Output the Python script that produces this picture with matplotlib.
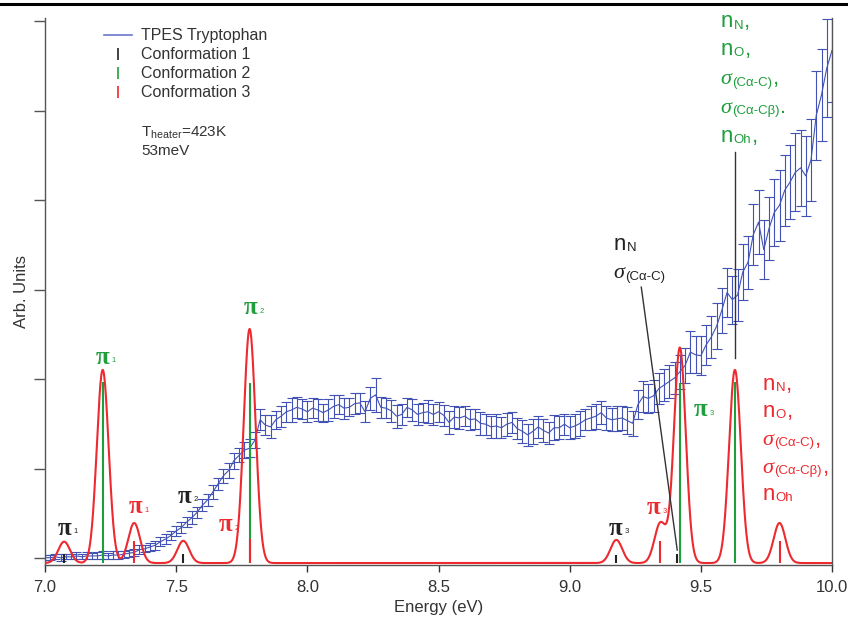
import numpy as np
import matplotlib
matplotlib.use('Agg')
import matplotlib.pyplot as plt
from matplotlib.lines import Line2D
from matplotlib.font_manager import FontProperties
from matplotlib.textpath import text_to_path

plt.rcParams['font.family'] = ['Liberation Sans', 'DejaVu Sans']
plt.rcParams['mathtext.fontset'] = 'custom'
plt.rcParams['mathtext.rm'] = 'Liberation Sans'
plt.rcParams['mathtext.it'] = 'Liberation Sans:italic'

# данные TPES (энергия, сигнал, погрешность)
energy = np.round(np.arange(7.0, 10.001, 0.02), 2)
tpes = [0.06, 0.06, 0.07, 0.06, 0.07, 0.07, 0.08, 0.07, 0.08, 0.08, 0.08, 0.09, 0.08, 0.09, 0.09, 0.10,
        0.11, 0.12, 0.15, 0.16, 0.18, 0.20, 0.24, 0.27, 0.31, 0.36,
        0.40, 0.46, 0.51, 0.57, 0.65, 0.71, 0.80, 0.89, 0.98, 1.04, 1.15, 1.21, 1.27, 1.29, 1.38,
        1.61, 1.55, 1.53, 1.61, 1.65, 1.70, 1.72, 1.75, 1.73, 1.70,
        1.74, 1.72, 1.69, 1.72, 1.76, 1.78, 1.74, 1.75, 1.79, 1.80,
        1.70, 1.85, 1.89, 1.75, 1.74, 1.71, 1.65, 1.67, 1.75, 1.72,
        1.67, 1.69, 1.70, 1.67, 1.70, 1.66, 1.58, 1.64, 1.63, 1.65,
        1.61, 1.62, 1.57, 1.56, 1.53, 1.54, 1.52, 1.56, 1.58, 1.51,
        1.48, 1.44, 1.48, 1.53, 1.49, 1.46, 1.52, 1.52, 1.56, 1.52,
        1.54, 1.57, 1.61, 1.63, 1.65, 1.69, 1.63, 1.61, 1.62, 1.63,
        1.60, 1.57, 1.78, 1.87, 1.85, 1.88, 1.96, 2.00, 2.04, 2.08,
        2.15, 2.22, 2.37, 2.34, 2.33, 2.45, 2.54, 2.66, 2.84, 3.04,
        2.96, 3.01, 3.27, 3.38, 3.69, 3.83, 3.52, 3.76, 3.94, 4.02,
        4.19, 4.28, 4.39, 4.44, 4.35, 4.53, 5.03, 5.26, 5.56, 5.76]
tpes_err = [0.03, 0.03, 0.03, 0.04, 0.03, 0.03, 0.04, 0.03, 0.04, 0.03, 0.04, 0.04, 0.03, 0.04, 0.04, 0.04,
            0.04, 0.04, 0.05, 0.04, 0.05, 0.05, 0.05, 0.06, 0.05, 0.06,
            0.06, 0.06, 0.07, 0.06, 0.07, 0.07, 0.08, 0.07, 0.08, 0.08, 0.09, 0.08, 0.09, 0.10, 0.09,
            0.12, 0.11, 0.13, 0.10, 0.12, 0.11, 0.13, 0.12, 0.11, 0.12,
            0.11, 0.12, 0.10, 0.12, 0.13, 0.11, 0.12, 0.10, 0.12, 0.11,
            0.12, 0.13, 0.19, 0.12, 0.11, 0.12, 0.13, 0.12, 0.11, 0.12,
            0.12, 0.11, 0.13, 0.12, 0.11, 0.12, 0.13, 0.12, 0.12, 0.11,
            0.12, 0.11, 0.13, 0.12, 0.12, 0.14, 0.12, 0.13, 0.12, 0.12,
            0.13, 0.12, 0.14, 0.12, 0.13, 0.12, 0.14, 0.13, 0.12, 0.13,
            0.13, 0.14, 0.12, 0.13, 0.14, 0.13, 0.14, 0.13, 0.14, 0.14,
            0.15, 0.14, 0.16, 0.17, 0.16, 0.18, 0.17, 0.18, 0.19, 0.18,
            0.19, 0.20, 0.24, 0.21, 0.22, 0.23, 0.24, 0.26, 0.25, 0.28,
            0.27, 0.29, 0.31, 0.30, 0.34, 0.36, 0.33, 0.35, 0.38, 0.40,
            0.40, 0.42, 0.44, 0.43, 0.45, 0.46, 0.50, 0.52, 0.55, 0.58]

# расчетный спектр: положения и высоты пиков
peak_pos = [7.073, 7.22, 7.34, 7.527, 7.78, 9.178, 9.346, 9.42, 9.63, 9.80]
peak_amp = [0.24, 2.17, 0.45, 0.25, 2.63, 0.26, 0.45, 2.42, 2.17, 0.45]
peak_sigma = 0.0225

# палочки для конформаций
conf1_pos = [7.073, 7.527, 9.178, 9.41]
conf1_amp = [0.10, 0.10, 0.09, 0.10]
conf2_pos = [7.22, 7.78, 9.42, 9.63]
conf2_amp = [2.03, 2.02, 2.02, 2.03]
conf3_pos = [7.34, 7.78, 9.346, 9.80]
conf3_amp = [0.25, 0.27, 0.25, 0.25]

# подписи орбиталей: (основной символ, индекс, хвост)
orb_green = [('n', 'N', ','), ('n', 'O', ','), ('σ', '(Cα-C)', ','),
             ('σ', '(Cα-Cβ)', '.'), ('n', 'Oh', ',')]
orb_red = [('n', 'N', ','), ('n', 'O', ','), ('σ', '(Cα-C)', ','),
           ('σ', '(Cα-Cβ)', ','), ('n', 'Oh', '')]
orb_black = [('n', 'N', ''), ('σ', '(Cα-C)', '')]

blue = '#4152b4'
red = '#ec2a2f'
green = '#1e9e3c'
dark = '#222222'

fig = plt.figure(figsize=(8.48, 6.18), dpi=100)
ax = fig.add_axes([45 / 848, 1 - 565 / 618, 787 / 848, 547 / 618])

ax.errorbar(energy, tpes, yerr=tpes_err, color=blue, lw=0.8, elinewidth=0.8,
            capsize=3.5, capthick=0.8, zorder=2)

x = np.linspace(7.0, 10.0, 3000)
sim = np.zeros_like(x)
for p, a in zip(peak_pos, peak_amp):
    sim += a * np.exp(-(x - p) ** 2 / (2 * peak_sigma ** 2))
ax.plot(x, sim, color=red, lw=1.5, zorder=3)

ax.vlines(conf1_pos, 0, conf1_amp, color=dark, lw=1.5, zorder=4)
ax.vlines(conf2_pos, 0, conf2_amp, color=green, lw=1.5, zorder=4)
ax.vlines(conf3_pos, 0, conf3_amp, color=red, lw=1.5, zorder=5)

ax.set_xlim(7.0, 10.0)
ax.set_ylim(-0.022, 6.124)
ax.set_xticks([7.0, 7.5, 8.0, 8.5, 9.0, 9.5, 10.0])
ax.set_xticklabels(['7.0', '7.5', '8.0', '8.5', '9.0', '9.5', '10.0'])
ax.set_yticks([0.055 + 1.005 * k for k in range(7)])
ax.set_yticklabels([])
ax.tick_params(axis='x', direction='out', length=5, width=1, colors='#333333',
               labelsize=12, pad=5.5)
ax.tick_params(axis='y', direction='out', length=8, width=1, colors='#555555')
for s in ['left', 'bottom', 'right']:
    ax.spines[s].set_color('#555555')
    ax.spines[s].set_linewidth(1)
ax.spines['top'].set_visible(False)
ax.set_xlabel('Energy (eV)', fontsize=12, color='#333333', labelpad=4)
ax.set_ylabel('Arb. Units', fontsize=12, color='#333333', labelpad=0)

# легенда
handles = [Line2D([], [], color='#6878cc', lw=1.2),
           Line2D([], [], color=dark, marker='|', ls='None', ms=8, mew=1.2),
           Line2D([], [], color=green, marker='|', ls='None', ms=8, mew=1.2),
           Line2D([], [], color=red, marker='|', ls='None', ms=8, mew=1.2)]
labels = ['TPES Tryptophan', 'Conformation 1', 'Conformation 2', 'Conformation 3']
leg = ax.legend(handles, labels, loc='upper left', bbox_to_anchor=(0.075, 0.981),
                frameon=False, fontsize=11.5, handlelength=1.75, handletextpad=0.55,
                labelspacing=0.25, borderpad=0, borderaxespad=0)
for t in leg.get_texts():
    t.set_color('#333333')

ax.text(7.367, 4.79, r'T$_{\mathrm{heater}}$=423K', fontsize=11, color='#333333', va='baseline')
ax.text(7.367, 4.58, '53meV', fontsize=11, color='#333333', va='baseline')


def pi_label(e, v, num, color):
    ax.text(e, v, 'π', fontsize=18, fontweight='bold', family='Liberation Serif',
            color=color, ha='center', va='center')
    ax.annotate(num, xy=(e, v), xytext=(6.5, -2.5), textcoords='offset points',
                fontsize=5.5, color=color, ha='left', va='center')


def text_width(s, family, size, style='normal'):
    fp = FontProperties(family=family, size=size, style=style)
    w, h, d = text_to_path.get_text_width_height_descent(s, fp, ismath=False)
    return w


def orb_label(e, v, main, sub, tail, color, size=16, subsize=9.5):
    if main == 'σ':
        fam, sty = 'Liberation Serif', 'italic'
    else:
        fam, sty = 'Liberation Sans', 'normal'
    ax.text(e, v, main, family=fam, style=sty, fontsize=size, color=color,
            va='baseline', clip_on=False)
    w1 = text_width(main, fam, size, sty) + 0.5
    ax.annotate(sub, xy=(e, v), xytext=(w1, -1), textcoords='offset points',
                fontsize=subsize, color=color, va='baseline')
    w2 = text_width(sub, 'Liberation Sans', subsize) + 0.6
    if tail:
        ax.annotate(tail, xy=(e, v), xytext=(w1 + w2, 0), textcoords='offset points',
                    fontsize=size, color=color, va='baseline')


pi_label(7.076, 0.39, '1', dark)
pi_label(7.218, 2.31, '1', green)
pi_label(7.344, 0.63, '1', red)
pi_label(7.531, 0.75, '2', dark)
pi_label(7.688, 0.43, '2', red)
pi_label(7.783, 2.87, '2', green)
pi_label(9.174, 0.39, '3', dark)
pi_label(9.319, 0.62, '3', red)
pi_label(9.499, 1.72, '3', green)

green_base = [6.02, 5.71, 5.38, 5.06, 4.73]
red_base = [1.944, 1.64, 1.326, 1.011, 0.708]
black_base = [3.517, 3.20]
for (m, s, t), vb in zip(orb_green, green_base):
    orb_label(9.575, vb, m, s, t, green)
for (m, s, t), vb in zip(orb_red, red_base):
    orb_label(9.736, vb, m, s, t, red)
for (m, s, t), vb in zip(orb_black, black_base):
    orb_label(9.167, vb, m, s, t, dark)

# линии-указатели
ax.plot([9.629, 9.629], [4.62, 2.30], color='#333333', lw=1, zorder=6)
ax.plot([9.273, 9.41], [3.10, 0.146], color='#333333', lw=1, zorder=6)

# жирная линия сверху страницы
fig.add_artist(Line2D([0, 1], [1 - 4 / 618, 1 - 4 / 618], transform=fig.transFigure,
                      color='black', lw=2.2))

fig.savefig('out.png', dpi=100)
